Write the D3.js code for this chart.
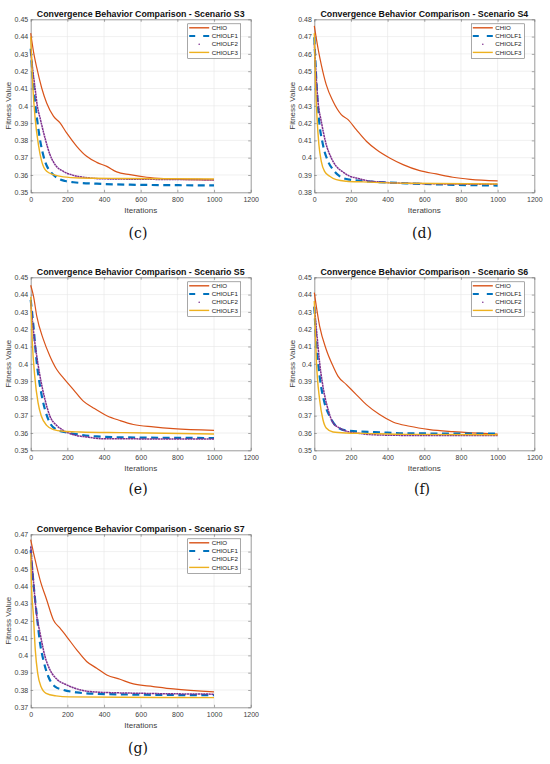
<!DOCTYPE html>
<html>
<head>
<meta charset="utf-8">
<script src="https://cdn.jsdelivr.net/npm/d3@7"></script>
<style>
  body { margin: 0; background: #fff; }
  text { font-family: "Liberation Sans", Arial, sans-serif; }
</style>
</head>
<body>
<div id="chart"></div>
<script>
// series names and tick values
const seriesNames = ["CHIO", "CHIOLF1", "CHIOLF2", "CHIOLF3"];
const xTicks = [0, 200, 400, 600, 800, 1000, 1200];

// [iteration, fitness]
// Scenario S3
const s3Chio = [[0,0.442],[15,0.4315],[33,0.422],[60,0.4103],[87,0.4016],[124,0.394],[160,0.3901],[196,0.3843],[251,0.3766],[305,0.3708],[360,0.3673],[415,0.365],[469,0.3618],[542,0.3602],[633,0.3587],[724,0.3579],[815,0.3575],[1000,0.3571]];
const s3Lf1 = [[0,0.433],[10,0.418],[25,0.401],[40,0.388],[55,0.378],[78,0.3679],[115,0.3611],[150,0.358],[190,0.3565],[233,0.3558],[360,0.355],[542,0.3544],[1000,0.354]];
const s3Lf2 = [[0,0.432],[12,0.42],[24,0.41],[36,0.4],[51,0.393],[78,0.3814],[105,0.3718],[133,0.366],[178,0.3621],[233,0.3598],[287,0.3587],[400,0.3578],[1000,0.3573]];
const s3Lf3 = [[0,0.44],[11,0.4122],[24,0.393],[42,0.3776],[60,0.3679],[87,0.3621],[124,0.3602],[178,0.3589],[269,0.3583],[500,0.358],[1000,0.3577]];

// Scenario S4
const s4Chio = [[0,0.4762],[20,0.4634],[38,0.4538],[65,0.4422],[102,0.4326],[147,0.4249],[184,0.422],[229,0.4162],[284,0.4095],[338,0.4047],[411,0.3998],[484,0.396],[575,0.3925],[665,0.3906],[756,0.3887],[850,0.3875],[1000,0.3866]];
const s4Lf1 = [[0,0.4696],[11,0.445],[25,0.423],[47,0.4076],[75,0.3979],[102,0.3931],[138,0.3893],[193,0.3873],[284,0.3864],[500,0.3852],[700,0.3845],[1000,0.3839]];
const s4Lf2 = [[0,0.466],[20,0.4326],[38,0.421],[65,0.4076],[93,0.3998],[120,0.395],[156,0.3918],[193,0.3893],[229,0.3883],[284,0.3868],[356,0.386],[500,0.3852],[1000,0.3846]];
const s4Lf3 = [[0,0.472],[7,0.4422],[15,0.423],[25,0.4076],[38,0.3979],[56,0.3921],[84,0.3893],[120,0.3873],[175,0.3864],[266,0.386],[500,0.3852],[1000,0.3848]];

// Scenario S5
const s5Chio = [[0,0.4454],[15,0.4392],[33,0.4276],[69,0.4141],[105,0.4044],[142,0.3967],[178,0.3919],[233,0.3851],[287,0.3784],[342,0.3745],[415,0.37],[487,0.3672],[560,0.3649],[669,0.3635],[778,0.3625],[1000,0.3615]];
const s5Lf1 = [[0,0.437],[15,0.4218],[33,0.4006],[51,0.387],[78,0.3735],[105,0.3658],[142,0.3619],[196,0.3603],[269,0.359],[360,0.358],[500,0.3575],[1000,0.3571]];
const s5Lf2 = [[0,0.436],[18,0.416],[33,0.4044],[51,0.3928],[78,0.3793],[105,0.3697],[142,0.3643],[178,0.3615],[233,0.359],[305,0.3577],[396,0.3567],[1000,0.3565]];
const s5Lf3 = [[0,0.4388],[9,0.4122],[22,0.3929],[40,0.3775],[58,0.3698],[87,0.3644],[124,0.362],[178,0.361],[269,0.3606],[500,0.3602],[1000,0.3594]];

// Scenario S6
const s6Chio = [[0,0.4411],[29,0.4218],[65,0.4083],[102,0.3987],[129,0.3929],[175,0.388],[229,0.3822],[284,0.3764],[356,0.3707],[429,0.3664],[520,0.3639],[629,0.362],[756,0.3608],[1000,0.3594]];
const s6Lf1 = [[0,0.433],[11,0.4122],[29,0.3929],[56,0.3774],[84,0.3697],[120,0.3639],[175,0.3614],[229,0.361],[356,0.3604],[500,0.3598],[1000,0.3596]];
const s6Lf2 = [[0,0.433],[15,0.416],[29,0.4006],[47,0.3871],[75,0.3736],[102,0.3659],[138,0.3629],[175,0.361],[229,0.36],[320,0.359],[500,0.3586],[1000,0.3585]];
const s6Lf3 = [[0,0.4363],[11,0.4025],[29,0.3793],[47,0.3678],[65,0.3629],[102,0.3606],[175,0.36],[266,0.3598],[500,0.3592],[1000,0.359]];

// Scenario S7
const s7Chio = [[0,0.4669],[24,0.4553],[51,0.4437],[87,0.4322],[124,0.4205],[160,0.4157],[196,0.4109],[251,0.4032],[305,0.3965],[360,0.3926],[415,0.3887],[487,0.3862],[560,0.3835],[669,0.382],[778,0.3806],[1000,0.3789]];
const s7Lf1 = [[0,0.4609],[15,0.4418],[24,0.4322],[36,0.4206],[51,0.4071],[69,0.3974],[96,0.3878],[133,0.382],[178,0.3801],[251,0.3786],[360,0.3778],[600,0.3773],[1000,0.377]];
const s7Lf2 = [[0,0.463],[15,0.443],[29,0.4264],[51,0.4129],[78,0.3994],[105,0.3917],[142,0.3863],[196,0.383],[269,0.3801],[360,0.3788],[600,0.3781],[1000,0.3776]];
const s7Lf3 = [[0,0.459],[4,0.4418],[15,0.4225],[25,0.4032],[38,0.3897],[56,0.382],[84,0.3781],[138,0.3766],[211,0.376],[500,0.3758],[1000,0.3756]];

// panel layout
const panels = [
  { name: "S3", tag: "(c)", yDomain: [0.35, 0.45], left: 30.7, top: 19.3, tagX: 138, tagY: 238, data: [s3Chio, s3Lf1, s3Lf2, s3Lf3] },
  { name: "S4", tag: "(d)", yDomain: [0.38, 0.48], left: 314.3, top: 19.3, tagX: 422, tagY: 238, data: [s4Chio, s4Lf1, s4Lf2, s4Lf3] },
  { name: "S5", tag: "(e)", yDomain: [0.35, 0.45], left: 30.7, top: 277.3, tagX: 138, tagY: 494, data: [s5Chio, s5Lf1, s5Lf2, s5Lf3] },
  { name: "S6", tag: "(f)", yDomain: [0.35, 0.45], left: 314.3, top: 277.3, tagX: 422, tagY: 494, data: [s6Chio, s6Lf1, s6Lf2, s6Lf3] },
  { name: "S7", tag: "(g)", yDomain: [0.37, 0.47], left: 30.7, top: 534.3, tagX: 138, tagY: 753, data: [s7Chio, s7Lf1, s7Lf2, s7Lf3] }
];

const plotW = 220, plotH = 173;
const colors = ["#D95319", "#0072BD", "#7E2F8E", "#EDB120"];
const widths = [1.2, 2.2, 1.5, 1.4];
const dashes = [null, "7,4.5", "2.2,0.5", null];
const axisColor = "#6e6e6e", textColor = "#404040";

const svg = d3.select("#chart").append("svg")
  .attr("width", 550).attr("height", 764);

function drawPanel(p) {
  const g = svg.append("g").attr("transform", `translate(${p.left},${p.top})`);
  const x = d3.scaleLinear().domain([0, 1200]).range([0, plotW]);
  const y = d3.scaleLinear().domain(p.yDomain).range([plotH, 0]);
  const yTicks = y.ticks(10);
  const fmt = d => String(+d.toFixed(2));

  // grid
  g.append("g").selectAll("line").data(xTicks.slice(1, -1)).join("line")
    .attr("x1", d => x(d)).attr("x2", d => x(d)).attr("y1", 0).attr("y2", plotH)
    .attr("stroke", "#e6e6e6").attr("stroke-width", 0.6);
  g.append("g").selectAll("line").data(yTicks.slice(1, -1)).join("line")
    .attr("y1", d => y(d)).attr("y2", d => y(d)).attr("x1", 0).attr("x2", plotW)
    .attr("stroke", "#e6e6e6").attr("stroke-width", 0.6);

  // axes (ticks point inwards, MATLAB style)
  const xAxis = g.append("g").attr("transform", `translate(0,${plotH})`)
    .call(d3.axisBottom(x).tickValues(xTicks).tickSize(-2.5).tickSizeOuter(0).tickPadding(5).tickFormat(d3.format("d")));
  const yAxis = g.append("g")
    .call(d3.axisLeft(y).tickValues(yTicks).tickSize(-2.5).tickSizeOuter(0).tickPadding(2.5).tickFormat(fmt));
  const xTop = g.append("g")
    .call(d3.axisTop(x).tickValues(xTicks).tickSize(-2.5).tickSizeOuter(0).tickFormat(""));
  const yRight = g.append("g").attr("transform", `translate(${plotW},0)`)
    .call(d3.axisRight(y).tickValues(yTicks).tickSize(-2.5).tickSizeOuter(0).tickFormat(""));
  [xAxis, yAxis, xTop, yRight].forEach(a => {
    a.select(".domain").attr("stroke", axisColor).attr("stroke-width", 0.7);
    a.selectAll(".tick line").attr("stroke", axisColor).attr("stroke-width", 0.6);
    a.selectAll(".tick text").attr("fill", textColor).style("font-size", "7px");
  });

  // curves
  const line = d3.line()
    .x(d => x(d[0]))
    .y(d => y(d[1]))
    .curve(d3.curveMonotoneX);

  const curves = g.append("g");
  p.data.forEach((s, i) => {
    curves.append("path")
      .datum(s)
      .attr("d", line)
      .attr("fill", "none")
      .attr("stroke", colors[i])
      .attr("stroke-width", widths[i])
      .attr("stroke-dasharray", dashes[i]);
  });

  // title and labels
  g.append("text")
    .attr("x", plotW / 2).attr("y", -2.6)
    .attr("text-anchor", "middle")
    .style("font-size", "8.8px").style("font-weight", "bold")
    .attr("fill", "#111")
    .text(`Convergence Behavior Comparison - Scenario ${p.name}`);

  g.append("text")
    .attr("x", plotW / 2).attr("y", plotH + 20.7)
    .attr("text-anchor", "middle")
    .style("font-size", "8px").attr("fill", textColor)
    .text("Iterations");

  g.append("text")
    .attr("transform", `translate(-19.6,${plotH / 2}) rotate(-90)`)
    .attr("text-anchor", "middle")
    .style("font-size", "8px").attr("fill", textColor)
    .text("Fitness Value");

  // legend
  const lg = g.append("g").attr("transform", `translate(${plotW - 63},${4.5})`);
  lg.append("rect")
    .attr("width", 53).attr("height", 34.5)
    .attr("fill", "#fff").attr("stroke", axisColor).attr("stroke-width", 0.6);
  seriesNames.forEach((n, i) => {
    const ly = 4 + i * 8.2;
    if (i === 2) {
      lg.append("circle").attr("cx", 11.5).attr("cy", ly).attr("r", 0.8).attr("fill", colors[i]);
    } else {
      lg.append("line")
        .attr("x1", 1.5).attr("x2", 21.5).attr("y1", ly).attr("y2", ly)
        .attr("stroke", colors[i])
        .attr("stroke-width", i === 1 ? 2 : 1.4)
        .attr("stroke-dasharray", i === 1 ? "6,8" : null);
    }
    lg.append("text")
      .attr("x", 24).attr("y", ly + 2.2)
      .style("font-size", "6.2px").attr("fill", "#222")
      .text(n);
  });

  // sub-figure tag
  svg.append("text")
    .attr("x", p.tagX).attr("y", p.tagY)
    .attr("text-anchor", "middle")
    .style("font-family", "'DejaVu Serif', 'Liberation Serif', serif")
    .style("font-size", "14px").attr("fill", "#111")
    .text(p.tag);
}

panels.forEach(drawPanel);
</script>
</body>
</html>
